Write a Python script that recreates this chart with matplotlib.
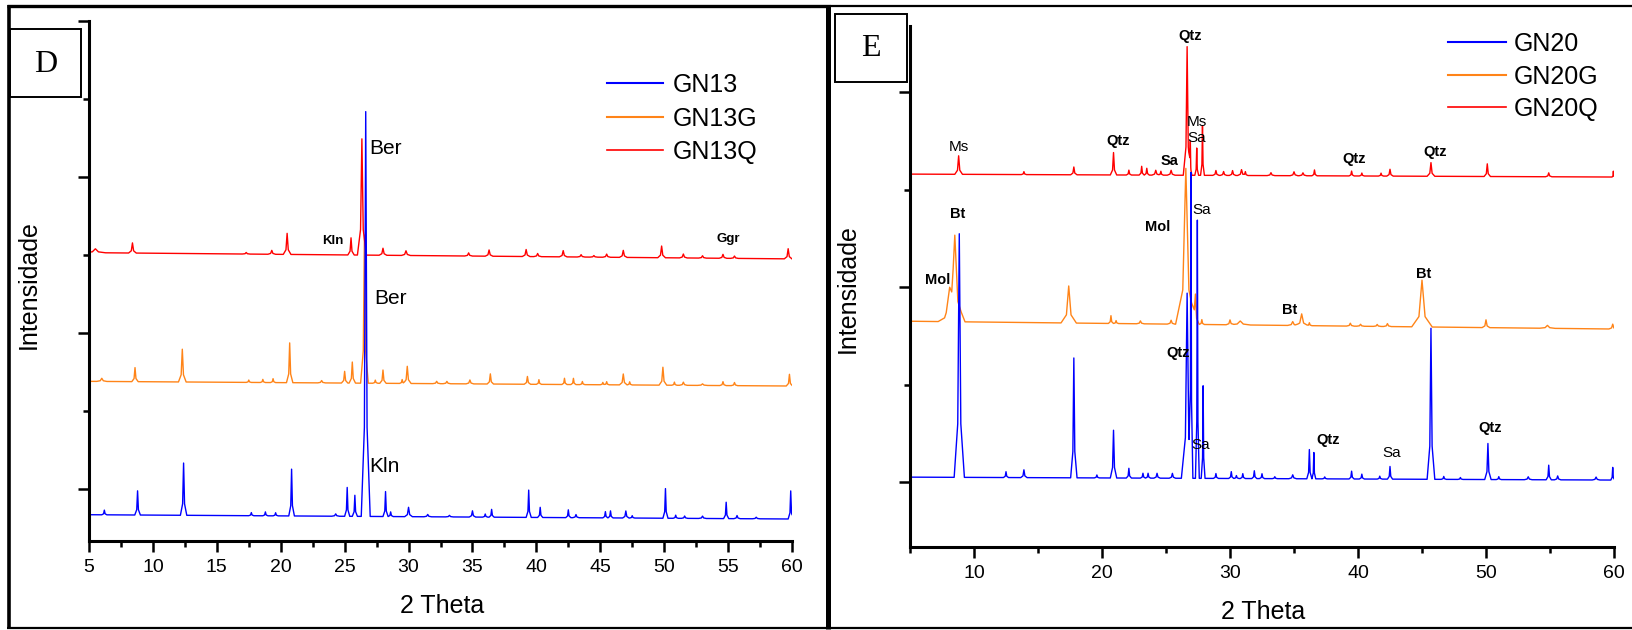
import numpy as np
import matplotlib.pyplot as plt
from matplotlib.lines import Line2D
from matplotlib.patches import Rectangle

plt.rcParams['font.family'] = ['Liberation Sans', 'DejaVu Sans']

# --- GN13 series (panel D): peak 2-theta, peak height, base half-width, baseline ---
gn13_pos = [6.2, 8.8, 12.4, 17.7, 18.8, 19.6, 20.85, 24.3, 25.2, 25.8,
            26.65, 28.2, 28.6, 30.0, 31.5, 33.2, 35.0, 36.0, 36.5, 39.4,
            40.3, 42.5, 43.1, 45.4, 45.8, 47.0, 47.5, 50.1, 50.9, 51.6,
            53.0, 54.85, 55.7, 57.2, 59.9]
gn13_hgt = [0.06, 0.31, 0.67, 0.04, 0.05, 0.04, 0.60, 0.03, 0.37, 0.27,
            5.19, 0.32, 0.06, 0.12, 0.03, 0.02, 0.08, 0.04, 0.10, 0.35,
            0.13, 0.10, 0.04, 0.08, 0.09, 0.09, 0.03, 0.38, 0.04, 0.03,
            0.03, 0.21, 0.04, 0.02, 0.36]
gn13_wid = [0.2, 0.22, 0.25, 0.2, 0.2, 0.2, 0.22, 0.3, 0.2, 0.2,
            0.35, 0.2, 0.2, 0.3, 0.3, 0.3, 0.25, 0.2, 0.2, 0.2,
            0.2, 0.2, 0.25, 0.2, 0.2, 0.25, 0.2, 0.2, 0.2, 0.25,
            0.3, 0.2, 0.25, 0.3, 0.2]
gn13_base = [-0.33, -0.385]

gn13g_pos = [6.0, 8.6, 12.3, 17.5, 18.6, 19.4, 20.7, 23.2, 25.0, 25.6,
             26.55, 27.4, 28.0, 29.5, 29.9, 32.2, 33.0, 34.8, 36.4, 39.3,
             40.2, 42.2, 42.9, 43.6, 45.2, 45.5, 46.8, 47.3, 49.9, 50.8,
             51.5, 53.0, 54.6, 55.5, 59.8]
gn13g_hgt = [0.04, 0.18, 0.42, 0.03, 0.04, 0.05, 0.51, 0.03, 0.15, 0.27,
             1.90, 0.04, 0.17, 0.05, 0.22, 0.03, 0.03, 0.05, 0.13, 0.10,
             0.06, 0.08, 0.08, 0.04, 0.03, 0.04, 0.14, 0.04, 0.23, 0.04,
             0.04, 0.02, 0.05, 0.04, 0.15]
gn13g_wid = [0.4, 0.25, 0.3, 0.2, 0.2, 0.2, 0.25, 0.3, 0.25, 0.25,
             0.3, 0.2, 0.25, 0.2, 0.3, 0.3, 0.3, 0.3, 0.25, 0.25,
             0.2, 0.2, 0.2, 0.2, 0.2, 0.2, 0.3, 0.2, 0.3, 0.2,
             0.3, 0.4, 0.25, 0.25, 0.25]
gn13g_base = [1.38, 1.32]

gn13q_pos = [5.5, 8.4, 17.3, 19.3, 20.5, 25.5, 26.35, 28.0, 29.8, 34.7,
             36.3, 39.2, 40.1, 42.1, 43.5, 44.5, 45.5, 46.8, 49.8, 51.5,
             53.0, 54.6, 55.5, 59.7]
gn13q_hgt = [0.05, 0.13, 0.02, 0.05, 0.27, 0.22, 1.49, 0.09, 0.06, 0.04,
             0.08, 0.09, 0.04, 0.08, 0.03, 0.02, 0.04, 0.09, 0.15, 0.05,
             0.03, 0.05, 0.03, 0.13]
gn13q_wid = [0.8, 0.3, 0.3, 0.3, 0.3, 0.25, 0.35, 0.3, 0.35, 0.3,
             0.3, 0.3, 0.3, 0.3, 0.3, 0.3, 0.3, 0.3, 0.3, 0.3,
             0.3, 0.3, 0.3, 0.3]
gn13q_base = [3.03, 2.95]

# --- GN20 series (panel E) ---
gn20_pos = [8.85, 12.5, 13.9, 17.8, 19.6, 20.9, 22.1, 23.2, 23.6, 24.3,
            25.5, 26.65, 26.95, 27.45, 27.9, 28.9, 30.1, 30.5, 31.0, 31.9,
            32.5, 33.5, 34.9, 36.2, 36.55, 37.4, 39.5, 40.3, 41.7, 42.5,
            45.7, 46.7, 48.0, 50.15, 51.0, 53.3, 54.9, 55.6, 58.6, 59.9]
gn20_hgt = [2.50, 0.06, 0.08, 1.23, 0.03, 0.49, 0.10, 0.05, 0.05, 0.05,
            0.05, 1.90, 2.94, 2.65, 0.95, 0.05, 0.07, 0.03, 0.05, 0.08,
            0.05, 0.02, 0.04, 0.30, 0.27, 0.02, 0.08, 0.05, 0.03, 0.13,
            1.55, 0.03, 0.02, 0.37, 0.03, 0.03, 0.15, 0.04, 0.03, 0.13]
gn20_wid = [0.4, 0.2, 0.25, 0.25, 0.2, 0.25, 0.2, 0.2, 0.2, 0.25,
            0.25, 0.45, 0.15, 0.15, 0.15, 0.2, 0.2, 0.2, 0.2, 0.2,
            0.2, 0.2, 0.3, 0.2, 0.15, 0.2, 0.2, 0.2, 0.2, 0.2,
            0.3, 0.2, 0.2, 0.25, 0.2, 0.3, 0.2, 0.25, 0.3, 0.15]
gn20_base = [0.05, 0.02]

gn20g_pos = [8.1, 8.5, 17.4, 20.7, 21.1, 23.0, 25.4, 26.55, 27.3, 27.8,
             30.0, 30.8, 34.9, 35.6, 36.2, 39.4, 40.2, 41.5, 42.3, 45.0,
             50.0, 54.8, 59.9]
gn20g_hgt = [0.22, 0.85, 0.38, 0.08, 0.03, 0.03, 0.04, 1.60, 0.28, 0.05,
             0.05, 0.04, 0.04, 0.12, 0.03, 0.03, 0.02, 0.02, 0.03, 0.48,
             0.08, 0.03, 0.05]
gn20g_wid = [0.9, 0.8, 0.6, 0.2, 0.2, 0.3, 0.3, 0.8, 0.3, 0.2,
             0.3, 0.8, 0.4, 0.5, 0.2, 0.3, 0.3, 0.3, 0.3, 0.8,
             0.3, 0.6, 0.3]
gn20g_base = [1.65, 1.57]

gn20q_pos = [8.8, 13.9, 17.8, 20.9, 22.1, 23.1, 23.5, 24.2, 24.6, 25.4,
             26.65, 26.9, 27.4, 27.85, 28.9, 29.5, 30.2, 30.9, 31.2, 33.2,
             35.0, 35.7, 36.6, 39.5, 40.3, 41.8, 42.5, 45.7, 50.1, 54.9,
             59.95]
gn20q_hgt = [0.19, 0.03, 0.08, 0.23, 0.05, 0.09, 0.07, 0.05, 0.04, 0.05,
             1.32, 0.28, 0.28, 0.51, 0.05, 0.04, 0.05, 0.06, 0.04, 0.03,
             0.04, 0.03, 0.06, 0.05, 0.03, 0.03, 0.07, 0.14, 0.13, 0.04,
             0.06]
gn20q_wid = [0.3, 0.2, 0.25, 0.25, 0.2, 0.2, 0.2, 0.3, 0.2, 0.3,
             0.3, 0.12, 0.15, 0.15, 0.25, 0.25, 0.25, 0.3, 0.2, 0.3,
             0.3, 0.3, 0.2, 0.2, 0.2, 0.2, 0.25, 0.3, 0.25, 0.25,
             0.1]
gn20q_base = [3.16, 3.13]

# phase labels: text, 2-theta, intensity, bold
labels_d = [('Ber', 28.2, 4.36, False), ('Kln', 24.09, 3.18, True),
            ('Ggr', 55.05, 3.21, True), ('Ber', 28.6, 2.44, False),
            ('Kln', 28.1, 0.29, False)]
labels_e = [('Qtz', 26.88, 4.58, True), ('Ms', 8.83, 3.44, False),
            ('Qtz', 21.25, 3.50, True), ('Sa', 25.31, 3.29, True),
            ('Ms', 27.38, 3.69, False), ('Sa', 27.42, 3.53, False),
            ('Qtz', 39.69, 3.31, True), ('Qtz', 45.99, 3.39, True),
            ('Bt', 8.73, 2.75, True), ('Mol', 24.34, 2.62, True),
            ('Sa', 27.81, 2.79, False), ('Mol', 7.19, 2.07, True),
            ('Bt', 34.66, 1.77, True), ('Bt', 45.16, 2.13, True),
            ('Qtz', 25.94, 1.32, True), ('Sa', 27.70, 0.38, False),
            ('Qtz', 37.70, 0.43, True), ('Sa', 42.63, 0.30, False),
            ('Qtz', 50.31, 0.55, True)]

BLUE, ORANGE, RED = '#0000ff', '#ff8418', '#ff0000'
W, H = 1632, 630


def xrd_profile(pos, hgt, wid, base):
    """Build the pattern as a polyline: sloping baseline plus one spike per peak."""
    pos, hgt, wid = np.asarray(pos), np.asarray(hgt), np.asarray(wid)
    knots = np.concatenate([[5, 60], pos - wid, pos - 0.3 * wid, pos,
                            pos + 0.3 * wid, pos + wid])
    x = np.unique(np.clip(knots, 5, 60))
    y = np.interp(x, [5, 60], base)
    for p, h, w in zip(pos, hgt, wid):
        y += np.interp(x, [p - w, p - 0.3 * w, p, p + 0.3 * w, p + w],
                       [0, 0.22 * h, h, 0.22 * h, 0], left=0, right=0)
    return x, y


def px_box(x0, y0, x1, y1):
    return [x0 / W, 1 - y1 / H, (x1 - x0) / W, (y1 - y0) / H]


def style_axes(ax, xmaj, xmin, ymaj, ymin, ytop):
    ax.set_xlim(5, 60)
    ax.set_ylim(-0.667, ytop)
    ax.set_xticks(xmaj)
    ax.set_xticks(xmin, minor=True)
    ax.set_yticks(ymaj)
    ax.set_yticks(ymin, minor=True)
    ax.set_yticklabels([])
    for s in ['top', 'right']:
        ax.spines[s].set_visible(False)
    for s in ['left', 'bottom']:
        ax.spines[s].set_linewidth(2.2)
    ax.tick_params(which='major', direction='out', length=8, width=1.8,
                   labelsize=14, pad=5)
    ax.tick_params(which='minor', direction='out', length=4.3, width=1.8)
    ax.patch.set_alpha(0)


def draw_panel(ax, series, labels, label_size, small_size):
    # orange first, red over it, blue on top
    for key in ['g', 'q', 'b']:
        pos, hgt, wid, base, color = series[key]
        x, y = xrd_profile(pos, hgt, wid, base)
        ax.plot(x, y, color=color, lw=1.0)
    for txt, x, y, bold in labels:
        if bold:
            ax.text(x, y, txt, ha='center', va='center', fontsize=small_size,
                    fontweight='bold')
        else:
            ax.text(x, y, txt, ha='center', va='center', fontsize=label_size)
    return [Line2D([], [], color=BLUE, lw=1.5),
            Line2D([], [], color=ORANGE, lw=1.5),
            Line2D([], [], color=RED, lw=1.2)]


fig = plt.figure(figsize=(W / 100, H / 100), dpi=100)

ax1 = fig.add_axes(px_box(89, 21, 792, 541))
style_axes(ax1, np.arange(5, 61, 5), np.arange(7.5, 60, 5), [0, 2, 4, 6], [1, 3, 5], 6.0)
h1 = draw_panel(ax1, {'b': (gn13_pos, gn13_hgt, gn13_wid, gn13_base, BLUE),
                      'g': (gn13g_pos, gn13g_hgt, gn13g_wid, gn13g_base, ORANGE),
                      'q': (gn13q_pos, gn13q_hgt, gn13q_wid, gn13q_base, RED)},
                labels_d, 15, 9.5)
ax1.legend(h1, ['GN13', 'GN13G', 'GN13Q'], loc='upper left', frameon=False,
           bbox_to_anchor=(607 / W, 1 - 73 / H), bbox_transform=fig.transFigure,
           fontsize=18, handlelength=2.25, handletextpad=0.36, labelspacing=0.38,
           borderpad=0, borderaxespad=0)

ax2 = fig.add_axes(px_box(910, 26, 1614, 547))
style_axes(ax2, np.arange(10, 61, 10), np.arange(5, 60, 10), [0, 2, 4], [1, 3], 4.68)
h2 = draw_panel(ax2, {'b': (gn20_pos, gn20_hgt, gn20_wid, gn20_base, BLUE),
                      'g': (gn20g_pos, gn20g_hgt, gn20g_wid, gn20g_base, ORANGE),
                      'q': (gn20q_pos, gn20q_hgt, gn20q_wid, gn20q_base, RED)},
                labels_e, 11, 10.5)
ax2.legend(h2, ['GN20', 'GN20G', 'GN20Q'], loc='upper left', frameon=False,
           bbox_to_anchor=(1448 / W, 1 - 32 / H), bbox_transform=fig.transFigure,
           fontsize=18, handlelength=2.3, handletextpad=0.32, labelspacing=0.34,
           borderpad=0, borderaxespad=0)

# axis titles
for x, y in [(442, 606), (1263, 612)]:
    fig.text(x / W, 1 - y / H, '2 Theta', ha='center', va='center', fontsize=18)
for x, y in [(29, 285), (848, 289)]:
    fig.text(x / W, 1 - y / H, 'Intensidade', ha='center', va='center',
             fontsize=18, rotation=90)

# panel letters
for (x0, y0, x1, y1), letter in [((10, 29, 81, 97), 'D'), ((835, 14, 907, 82), 'E')]:
    fig.patches.append(Rectangle((x0 / W, 1 - y1 / H), (x1 - x0) / W, (y1 - y0) / H,
                                 transform=fig.transFigure, fill=False,
                                 edgecolor='black', lw=1.4))
    fig.text((x0 + x1) / 2 / W, 1 - ((y0 + y1) / 2 + 1) / H, letter,
             family='Liberation Serif', fontsize=23, ha='center', va='center')


def frame_line(xs, ys, lw):
    fig.add_artist(Line2D([x / W for x in xs], [1 - y / H for y in ys],
                          transform=fig.transFigure, color='black', lw=lw,
                          solid_capstyle='butt'))


# panel frames
frame_line([8.5, 8.5], [4.5, 629], 2.6)
frame_line([7, 830], [6.2, 6.2], 2.4)
frame_line([828, 828], [4.5, 629], 3.6)
frame_line([830, 1632], [5.8, 5.8], 1.6)
frame_line([7, 1632], [627.8, 627.8], 1.6)

fig.savefig('out.png', dpi=100)
